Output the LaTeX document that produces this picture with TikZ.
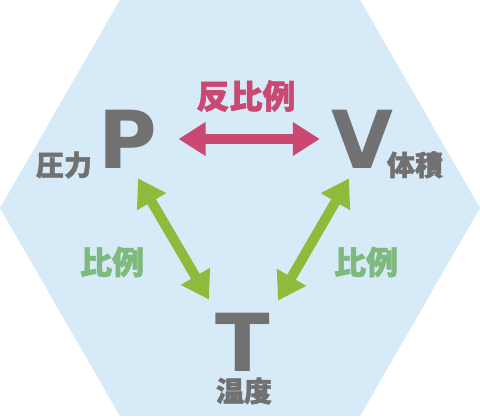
\documentclass[tikz,border=0pt]{standalone}
\usepackage{fontspec}
\setmainfont{DejaVu Sans}
\newfontfamily\cjk{Noto Sans CJK JP}[BoldFeatures={FakeBold=1.6}]
\usetikzlibrary{arrows.meta}

\definecolor{hexblue}{RGB}{215,234,248}
\definecolor{lettergray}{RGB}{113,113,113}
\definecolor{inversepink}{RGB}{201,73,114}
\definecolor{propgreen}{RGB}{141,187,60}
\definecolor{proplabel}{RGB}{126,186,126}

\tikzset{
  quantity/.style={inner sep=0pt, text=lettergray, font=\fontsize{80}{80}\selectfont\bfseries},
  qname/.style={inner sep=0pt, text=lettergray, font=\fontsize{28}{28}\selectfont\cjk\bfseries},
  rellabel/.style={inner sep=0pt, font=\fontsize{32}{32}\selectfont\cjk\bfseries},
  relarrow/.style={line width=10pt, {Triangle[width=32pt,length=27pt]}-{Triangle[width=32pt,length=27pt]}},
}

\begin{document}
\begin{tikzpicture}[x=1pt,y=-1pt]
\useasboundingbox (0,0) rectangle (480,420);
% background hexagon
\fill[hexblue] (120,0) -- (360,0) -- (480,208) -- (360,416) -- (120,416) -- (0,208) -- cycle;

% quantities
\node[quantity] (P) at (128,139) {P};
\node[quantity] (V) at (362,139) {V};
\node[quantity] (T) at (243,342) {T};
\node[qname] (pname) at (64,165) {圧力};
\node[qname] (vname) at (415,165) {体積};
\node[qname] (tname) at (244,391) {温度};

% relations
\node[rellabel, text=inversepink, font=\fontsize{33}{33}\selectfont\cjk\bfseries] (inv) at (246,96) {反比例};
\node[rellabel, text=proplabel] (propl) at (112,262) {比例};
\node[rellabel, text=proplabel] (propr) at (366,262) {比例};

\draw[relarrow, inversepink] ([xshift=21pt]P.east) -- ([xshift=-11pt]V.west);
\draw[relarrow, propgreen] ([shift={(10pt,-10pt)}]P.south) -- ([shift={(-34pt,13pt)}]T.north);
\draw[relarrow, propgreen] ([shift={(-13pt,-10pt)}]V.south) -- ([shift={(35pt,12pt)}]T.north);
\end{tikzpicture}
\end{document}
